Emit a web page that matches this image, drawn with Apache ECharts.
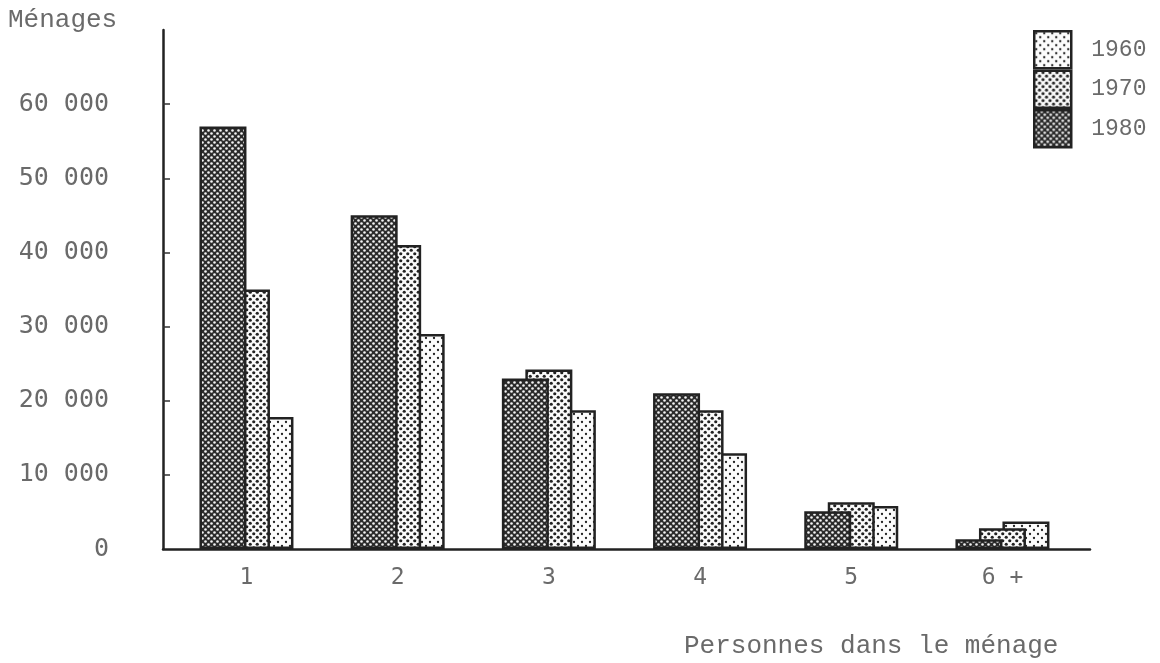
<!DOCTYPE html>
<html>
<head>
<meta charset="utf-8">
<script src="https://cdn.jsdelivr.net/npm/echarts@6/dist/echarts.min.js"></script>
<style>html,body{margin:0;padding:0;background:#fff}#c{width:1160px;height:663px}</style>
</head>
<body>
<div id="c"></div>
<script>
const categories = ['1', '2', '3', '4', '5', '6 +'];
const years = ['1980', '1970', '1960'];
const values1980 = [57000, 45000, 23000, 21000, 5100, 1300];
const values1970 = [35000, 41000, 24200, 18700, 6300, 2800];
const values1960 = [17800, 29000, 18700, 12900, 5800, 3700];
const yTicks = [10000, 20000, 30000, 40000, 50000, 60000];
const yLabels = [0, 10000, 20000, 30000, 40000, 50000, 60000];

function makePattern(size, bg, fg, r, dots) {
  const c = document.createElement('canvas');
  c.width = size; c.height = size;
  const g = c.getContext('2d');
  g.fillStyle = bg; g.fillRect(0, 0, size, size);
  g.fillStyle = fg;
  dots.forEach(function (d) {
    g.beginPath(); g.arc(d[0], d[1], r, 0, Math.PI * 2); g.fill();
  });
  return { image: c, repeat: 'repeat' };
}
const pat1980 = makePattern(6, '#2b2b2b', '#f4f4f4', 1.3, [[1.5, 1.5], [4.5, 4.5]]);
const pat1970 = makePattern(7, '#fafafa', '#222', 1.6, [[1.75, 1.75], [5.25, 5.25]]);
const pat1960 = makePattern(8, '#fcfcfc', '#222', 1.15, [[2, 2], [6, 6]]);

const seriesValues = [values1980, values1970, values1960];
const patterns = [pat1980, pat1970, pat1960];
const zs = [4, 3, 2];

const series = years.map(function (y, i) {
  return {
    name: y,
    type: 'bar',
    barWidth: 47,
    barGap: '-50%',
    z: zs[i],
    data: seriesValues[i].map(function (v, k) { return [k + 1, v]; }),
    itemStyle: { color: patterns[i], borderColor: '#222', borderWidth: 2.5 }
  };
});

const textColor = '#6a6a6a';
const chart = echarts.init(document.getElementById('c'));
chart.setOption({
  animation: false,
  backgroundColor: '#fff',
  title: [
    { text: 'Ménages', left: 3, top: 2,
      textStyle: { fontFamily: 'Liberation Mono', fontSize: 26, fontWeight: 'normal', color: textColor } },
    { text: 'Personnes dans le ménage', left: 679, top: 628,
      textStyle: { fontFamily: 'Liberation Mono', fontSize: 26, fontWeight: 'normal', color: textColor } }
  ],
  legend: {
    data: ['1960', '1970', '1980'],
    orient: 'vertical',
    left: 1033, top: 30,
    padding: 0,
    itemWidth: 37, itemHeight: 37, itemGap: 0,
    icon: 'rect',
    itemStyle: { borderColor: '#222', borderWidth: 2.5 },
    textStyle: { fontFamily: 'Liberation Mono', fontSize: 23, color: textColor, padding: [4, 0, 0, 15] }
  },
  grid: { left: 163, right: 70, top: 30, bottom: 114 },
  xAxis: {
    type: 'value',
    min: 0.448, max: 6.579,
    splitLine: { show: false },
    axisLine: { show: true, onZero: false, lineStyle: { color: '#222', width: 2.5 } },
    axisTick: { show: false },
    axisLabel: {
      customValues: categories.map(function (c, i) { return i + 1; }),
      formatter: function (v) { return categories[Math.round(v) - 1]; },
      margin: 18,
      fontFamily: 'DejaVu Sans Mono', fontSize: 23, color: textColor
    }
  },
  yAxis: {
    type: 'value',
    min: 0, max: 70000, interval: 10000,
    splitLine: { show: false },
    axisLine: { show: true, onZero: false, lineStyle: { color: '#222', width: 2.5 } },
    axisTick: { show: true, inside: true, length: 7, customValues: yTicks, lineStyle: { color: '#333', width: 1.5 } },
    axisLabel: {
      customValues: yLabels,
      formatter: function (v) { return v === 0 ? '0' : (v / 1000) + ' 000'; },
      margin: 54,
      fontFamily: 'DejaVu Sans Mono', fontSize: 25, color: textColor
    }
  },
  series: series
});
</script>
</body>
</html>
